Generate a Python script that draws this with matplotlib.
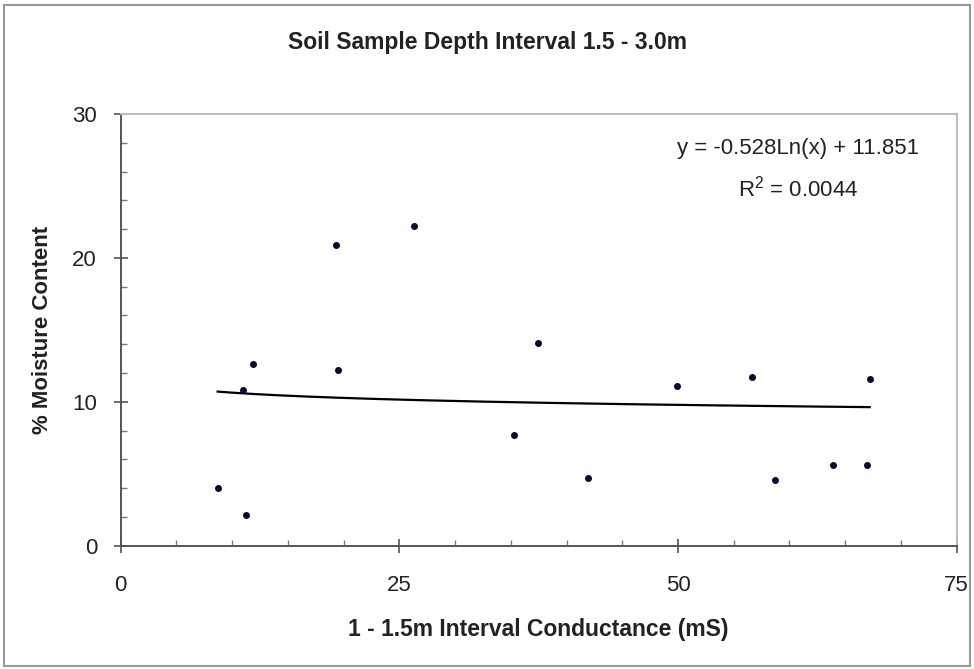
import numpy as np
import matplotlib.pyplot as plt
from matplotlib.patches import Rectangle

# conductance (mS) vs moisture content (%)
conductance = [8.7, 11.0, 11.2, 11.9, 19.3, 19.5, 26.3, 35.3, 37.4, 41.9,
               49.9, 56.6, 58.7, 63.9, 67.0, 67.2]
moisture = [4.0, 10.8, 2.1, 12.6, 20.9, 12.2, 22.2, 7.7, 14.1, 4.7,
            11.1, 11.7, 4.6, 5.6, 5.6, 11.6]
# log trendline coefficients shown on the chart
coef_a = -0.528
coef_b = 11.851
r2 = 0.0044

plt.rcParams['font.family'] = ['Liberation Sans', 'DejaVu Sans']

fig = plt.figure(figsize=(9.74, 6.69), dpi=100)
ax = fig.add_axes([0.1239, 0.1843, 0.8583, 0.6453])

ax.scatter(conductance, moisture, s=16, color='#0a0a30', zorder=3)

xt = np.linspace(min(conductance), max(conductance), 200)
ax.plot(xt, coef_a * np.log(xt) + coef_b, color='black', lw=1.6)

ax.set_xlim(0, 75)
ax.set_ylim(0, 30)
ax.set_xticks([0, 25, 50, 75])
ax.set_yticks([0, 10, 20, 30])
ax.set_xticks(np.arange(0, 76, 5), minor=True)
ax.set_yticks(np.arange(0, 31, 2), minor=True)
ax.tick_params(which='major', direction='inout', length=10, width=1.2,
               color='#555555', labelsize=16, labelcolor='#222222')
ax.tick_params(which='minor', direction='in', length=4, width=1,
               color='#777777')
ax.tick_params(axis='x', which='major', pad=16)
ax.tick_params(axis='y', which='major', pad=12)

for s in ['left', 'bottom']:
    ax.spines[s].set_color('#555555')
    ax.spines[s].set_linewidth(1.4)
for s in ['top', 'right']:
    ax.spines[s].set_color('#bbbbbb')
    ax.spines[s].set_linewidth(1.4)

ax.set_xlabel('1 - 1.5m Interval Conductance (mS)', fontsize=16.5,
              fontweight='bold', labelpad=16, color='#222222')
ax.set_ylabel('% Moisture Content', fontsize=16, fontweight='bold',
              labelpad=14, color='#222222')

fig.text(0.5, 1 - 43 / 669, 'Soil Sample Depth Interval 1.5 - 3.0m',
         ha='center', va='center', fontsize=16.5, fontweight='bold',
         color='#222222')

ax.text(0.81, 0.921, 'y = %.3fLn(x) + %.3f' % (coef_a, coef_b),
        transform=ax.transAxes, ha='center', va='center', fontsize=16,
        color='#222222')
ax.text(0.81, 0.828, '$\\mathregular{R^2}$ = %.4f' % r2,
        transform=ax.transAxes, ha='center', va='center', fontsize=16,
        color='#222222')

fig.patches.append(Rectangle((4 / 974, 3 / 669), 966 / 974, 661 / 669,
                             transform=fig.transFigure, fill=False,
                             edgecolor='#999999', lw=1.5))

fig.savefig('out.png', dpi=100)
